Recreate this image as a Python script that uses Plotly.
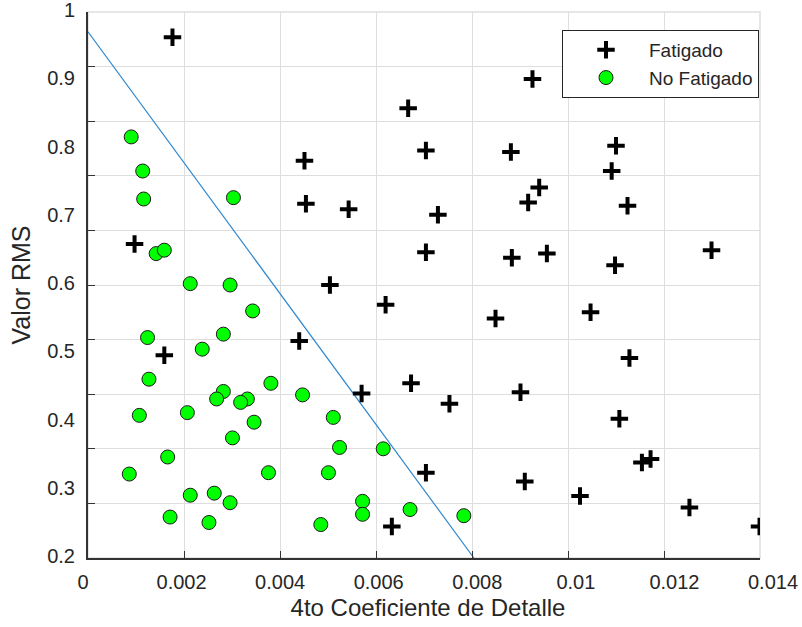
import plotly.graph_objects as go

# ---- data ----
fat_x = [0.00176, 0.00451, 0.00454, 0.00543, 0.00097, 0.00504, 0.00926, 0.00667,
         0.00704, 0.00881, 0.01100, 0.01091, 0.00940, 0.00917, 0.01124, 0.00729,
         0.00704, 0.00883, 0.00956, 0.01098, 0.01299, 0.00620, 0.00159, 0.00440,
         0.00570, 0.00633, 0.00849, 0.01047, 0.01128, 0.00673, 0.00901, 0.00753,
         0.01107, 0.01154, 0.01172, 0.00704, 0.00910, 0.01025, 0.01253, 0.01399]
fat_y = [0.963, 0.782, 0.719, 0.711, 0.660, 0.600, 0.902, 0.859,
         0.797, 0.795, 0.804, 0.767, 0.743, 0.721, 0.716, 0.703,
         0.648, 0.640, 0.646, 0.629, 0.651, 0.571, 0.497, 0.518,
         0.441, 0.246, 0.551, 0.560, 0.493, 0.456, 0.443, 0.426,
         0.404, 0.340, 0.345, 0.325, 0.312, 0.291, 0.274, 0.246]

nofat_x = [0.00090, 0.00114, 0.00116, 0.00303, 0.00142, 0.00159, 0.00213, 0.00296,
           0.00343, 0.00124, 0.00282, 0.00238, 0.00127, 0.00381, 0.00282, 0.00268,
           0.00332, 0.00318, 0.00447, 0.00107, 0.00207, 0.00346, 0.00511, 0.00301,
           0.00524, 0.00615, 0.00166, 0.00086, 0.00376, 0.00501, 0.00213, 0.00263,
           0.00296, 0.00572, 0.00572, 0.00171, 0.00252, 0.00485, 0.00671, 0.00783]
nofat_y = [0.817, 0.767, 0.726, 0.728, 0.646, 0.651, 0.602, 0.600,
           0.562, 0.523, 0.528, 0.506, 0.462, 0.456, 0.444, 0.433,
           0.433, 0.428, 0.439, 0.409, 0.413, 0.399, 0.406, 0.376,
           0.362, 0.360, 0.348, 0.323, 0.325, 0.325, 0.292, 0.295,
           0.281, 0.283, 0.264, 0.260, 0.252, 0.249, 0.271, 0.262]

boundary_x = [0.0, 0.00804]
boundary_y = [0.971, 0.2]

x_tick_vals = [0, 0.002, 0.004, 0.006, 0.008, 0.010, 0.012, 0.014]
x_tick_text = ["0", "0.002", "0.004", "0.006", "0.008", "0.01", "0.012", "0.014"]
y_grid_vals = [0.2, 0.28, 0.36, 0.44, 0.52, 0.60, 0.68, 0.76, 0.84, 0.92, 1.0]
y_tick_vals = [0.2, 0.3, 0.4, 0.5, 0.6, 0.7, 0.8, 0.9, 1.0]
y_tick_text = ["0.2", "0.3", "0.4", "0.5", "0.6", "0.7", "0.8", "0.9", "1"]

FONT = "Liberation Sans, Arial, sans-serif"
TXT = "#262626"
AX = "#333333"
GRID = "#dedede"

fig = go.Figure()
# empty trace that carries the label-only x axis (own subplot, drawn first)
fig.add_trace(go.Scatter(x=[], y=[], xaxis="x2", yaxis="y3", showlegend=False))
fig.add_trace(go.Scatter(x=boundary_x, y=boundary_y, mode="lines",
                         line=dict(color="#2f88cf", width=1.2),
                         showlegend=False, hoverinfo="skip"))
fig.add_trace(go.Scatter(x=fat_x, y=fat_y, mode="markers", name="Fatigado",
                         marker=dict(symbol="cross-thin", size=12.5,
                                     line=dict(color="black", width=4),
                                     color="black")))
fig.add_trace(go.Scatter(x=nofat_x, y=nofat_y, mode="markers", name="No Fatigado",
                         marker=dict(symbol="circle", size=14, color="#00ff00",
                                     line=dict(color="#1a1a1a", width=1))))
fig.add_trace(go.Scatter(x=[], y=[], xaxis="x", yaxis="y2", showlegend=False))

fig.update_layout(
    width=802, height=627,
    margin=dict(l=83, r=29, t=12, b=69),
    paper_bgcolor="white", plot_bgcolor="rgba(0,0,0,0)",
    font=dict(family=FONT, color=TXT),
    xaxis=dict(domain=[5 / 690, 677 / 690], anchor="y",
               range=[0, 0.014], tickvals=x_tick_vals, showticklabels=False,
               ticks="inside", ticklen=7, tickcolor=AX, tickwidth=1,
               showline=True, linecolor=AX, linewidth=1.5,
               showgrid=True, gridcolor=GRID, gridwidth=1,
               zeroline=False, automargin=False),
    yaxis=dict(range=[0.2, 1.0], anchor="x", tickvals=y_grid_vals, showticklabels=False,
               ticks="inside", ticklen=7, tickcolor=AX, tickwidth=1,
               showline=True, linecolor=AX, linewidth=1.5,
               showgrid=True, gridcolor=GRID, gridwidth=1,
               zeroline=False, automargin=False),
    xaxis2=dict(domain=[0, 1], anchor="y3", side="bottom",
                range=[0, 0.014],
                tickvals=x_tick_vals, ticktext=x_tick_text,
                tickfont=dict(size=20, color=TXT), ticks="", showline=False,
                showgrid=False, zeroline=False, automargin=False,
                ticklabelstandoff=10, ticklabeloverflow="allow",
                title=dict(text="4to Coeficiente de Detalle",
                           font=dict(size=24, color=TXT), standoff=7)),
    yaxis3=dict(domain=[0, 1], anchor="x2", range=[0.2, 1.0], visible=False,
                showgrid=False, zeroline=False, automargin=False),
    yaxis2=dict(overlaying="y", anchor="x", side="left",
                range=[0.2, 1.0],
                tickvals=y_tick_vals, ticktext=y_tick_text,
                tickfont=dict(size=20, color=TXT), ticks="", showline=False,
                showgrid=False, zeroline=False, automargin=False,
                ticklabelstandoff=12, ticklabelshift=-2, ticklabeloverflow="allow",
                title=dict(text="Valor RMS",
                           font=dict(size=25, color=TXT), standoff=9)),
    legend=dict(x=(759 - 83) / 690, xanchor="right", y=0.967, yanchor="top",
                bgcolor="white", bordercolor=TXT, borderwidth=1,
                font=dict(size=19, color=TXT), itemwidth=76,
                tracegroupgap=0),
    shapes=[dict(type="rect", xref="x domain", yref="y domain",
                 x0=0, x1=1, y0=0, y1=1, layer="below",
                 line=dict(color=GRID, width=1.5))],
)

fig.write_html("out.html")
